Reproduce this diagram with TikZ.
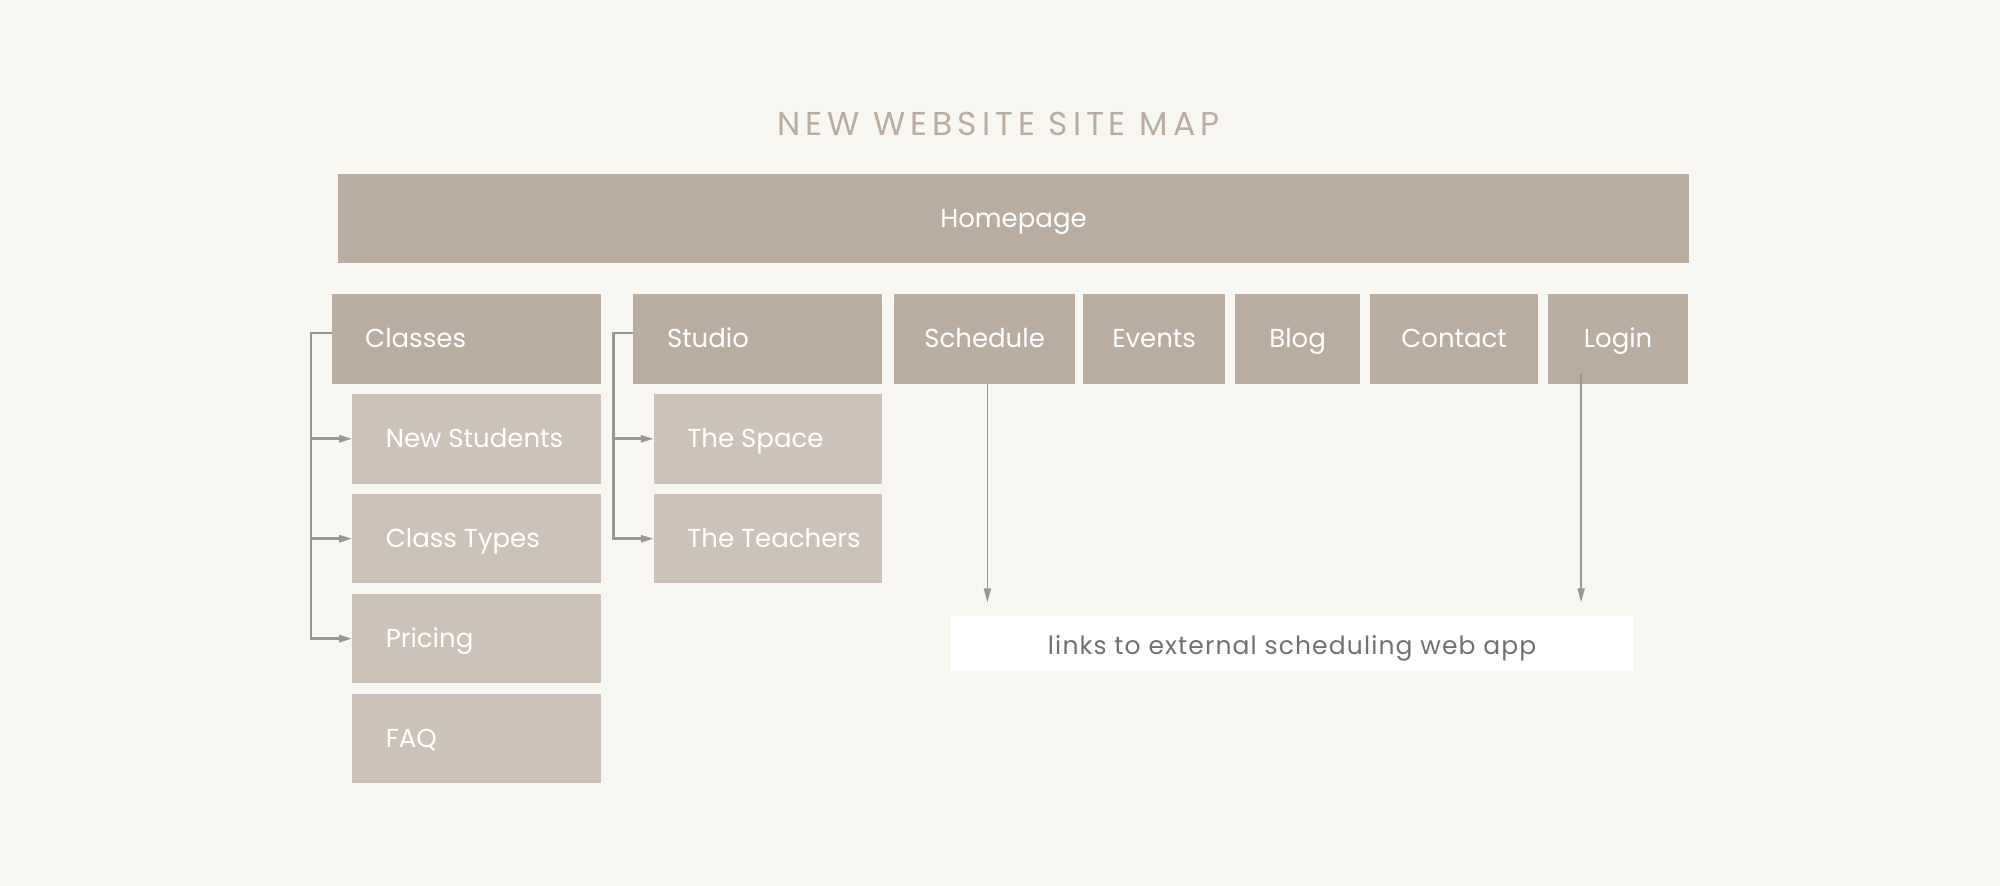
\documentclass[tikz,border=0pt]{standalone}
\usepackage{fontspec}
\usepackage{xcolor}
\usetikzlibrary{arrows.meta, positioning}
\setmainfont{Poppins}
\newfontfamily\sitefont{Poppins}
\newfontfamily\notefont[LetterSpace=4.5]{Poppins}
\newfontfamily\titlefont[LetterSpace=15]{Poppins}
\definecolor{paper}{HTML}{F8F6F1}
\definecolor{taupe}{HTML}{BAADA0}
\definecolor{sand}{HTML}{CDC2B7}
\definecolor{wire}{HTML}{979797}
\definecolor{note}{HTML}{727070}
\tikzset{%
	page/.style={
		fill=taupe,
		text=white,
		font=\sitefont\fontsize{13}{15}\selectfont,
		minimum height=44.8pt,
		text height=9.1pt,
		text depth=0pt,
		inner sep=0pt,
		outer sep=0pt
	},
	sub page/.style={
		page,
		fill=sand
	},
	left text/.style={
		inner xsep=16.8pt,
		execute at begin node={\hbox to #1\bgroup},
		execute at end node={\hss\egroup}
	},
	branch/.style={
		draw=wire,
		line width=1.3pt,
		-{Triangle[length=6.5pt,width=3.5pt]}
	},
	link/.style={
		draw=wire,
		line width=0.9pt,
		-{Triangle[length=7pt,width=3.5pt]}
	},
}

\begin{document}
\begin{tikzpicture}[x=0.5pt, y=-0.5pt]
	\fill[paper] (0,0) rectangle (2000,886);
	\node[anchor=base, text=taupe, font=\titlefont\fontsize{16.5}{18}\selectfont] (title) at (998.5,136) {NEW WEBSITE SITE MAP};
	\node[page, minimum width=675.5pt] (home) at (1013.5,218.7) {Homepage};
	% main menu
	\node[page, left text=100.9pt, below right=15.3pt and -3.2pt of home.south west] (classes) {Classes};
	\node[page, left text=90.6pt, right=16.4pt of classes] (studio) {Studio};
	\node[page, minimum width=90.5pt, right=6.15pt of studio] (schedule) {Schedule};
	\node[page, minimum width=71pt, right=4pt of schedule] (events) {Events};
	\node[page, minimum width=62.5pt, right=5pt of events] (blog) {Blog};
	\node[page, minimum width=84pt, right=5pt of blog] (contact) {Contact};
	\node[page, minimum width=70pt, right=5pt of contact] (login) {Login};
	% sub pages
	\node[sub page, left text=90.6pt, below left=5.15pt and 0pt of classes.south east] (newst) {New Students};
	\node[sub page, left text=90.6pt, below=5.15pt of newst] (types) {Class Types};
	\node[sub page, left text=90.6pt, below=5.15pt of types] (pricing) {Pricing};
	\node[sub page, left text=90.6pt, below=5.15pt of pricing] (faq) {FAQ};
	\node[sub page, left text=80.4pt, below left=5.15pt and 0pt of studio.south east] (space) {The Space};
	\node[sub page, left text=80.4pt, below=5.15pt of space] (teachers) {The Teachers};
	\node[fill=white, text=note, font=\notefont\fontsize{12.5}{14}\selectfont, minimum width=341pt, minimum height=27.3pt, text height=11.1pt, text depth=0.5pt, inner sep=0pt] (ext) at (1292.1,643.4) {links to external scheduling web app};
	% connectors
	\foreach \n in {newst, types, pricing}
		\draw[branch] ([yshift=3pt]classes.west) -- ++(-10.3pt,0) |- (\n.west);
	\foreach \n in {space, teachers}
		\draw[branch] ([yshift=3pt]studio.west) -- ++(-10pt,0) |- (\n.west);
	\coordinate (lg) at ([xshift=-18.5pt,yshift=4.7pt]login.south);
	\draw[link, shorten >=6.6pt] ([xshift=1.4pt]schedule.south) -- ([xshift=1.4pt]schedule.south |- ext.north);
	\draw[link, shorten >=6.6pt] (lg) -- (lg |- ext.north);
\end{tikzpicture}
\end{document}
